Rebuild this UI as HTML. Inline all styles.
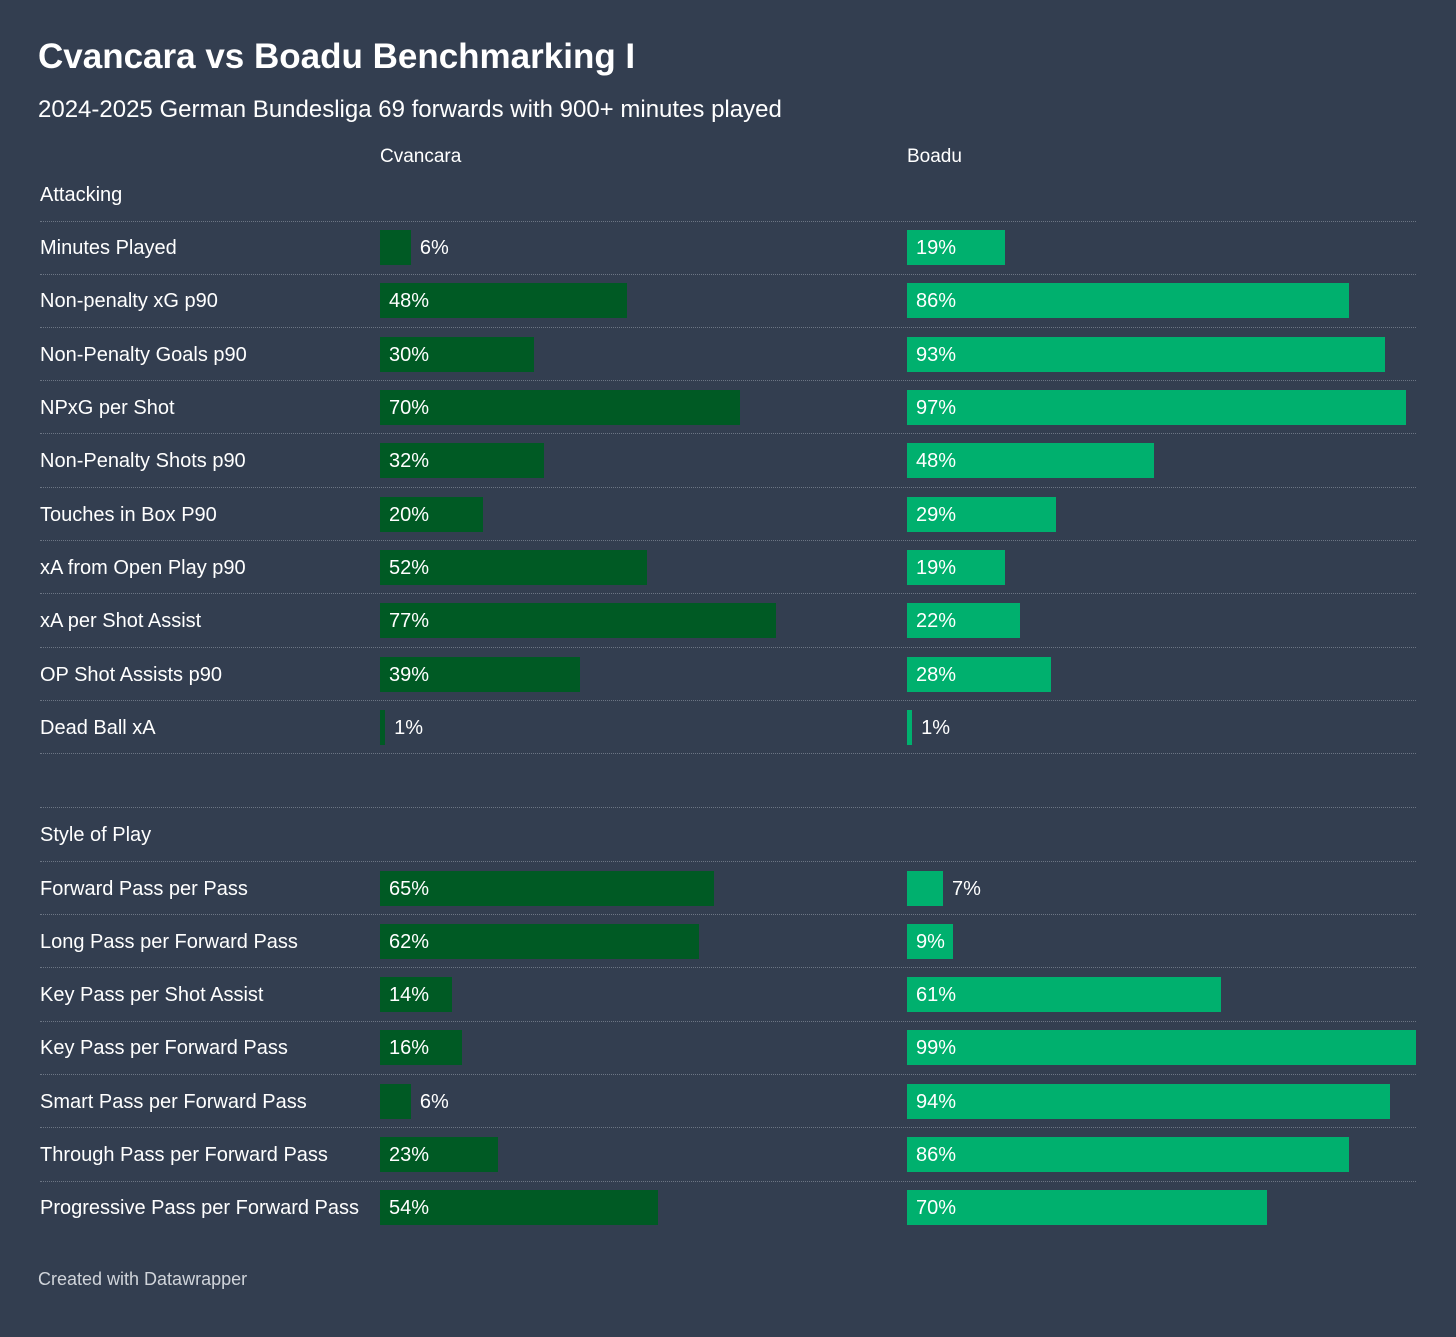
<!DOCTYPE html>
<html><head><meta charset="utf-8">
<style>
body{margin:0;width:1456px;height:1337px;background:#333e50;font-family:"Liberation Sans",sans-serif;color:#fff;position:relative;overflow:hidden}
.a{position:absolute;white-space:nowrap}
.lab{font-size:20px;line-height:24px}
.div{position:absolute;left:40px;width:1376px;height:0;border-top:1.5px dotted #6c7584}
.bar{position:absolute;height:35px}
</style></head><body>
<div class="a" style="left:38px;top:37px;font-size:35px;font-weight:bold">Cvancara vs Boadu Benchmarking I</div>
<div class="a" style="left:38px;top:96px;font-size:24px">2024-2025 German Bundesliga 69 forwards with 900+ minutes played</div>
<div class="a lab" style="left:380px;top:145px;font-size:19px">Cvancara</div>
<div class="a lab" style="left:907px;top:145px;font-size:19px">Boadu</div>
<div class="a" style="left:38px;top:1269px;font-size:18px;color:#d0d4da">Created with Datawrapper</div>
<div id="chart"></div>
<script>
const attackLabels=["Minutes Played","Non-penalty xG p90","Non-Penalty Goals p90","NPxG per Shot","Non-Penalty Shots p90","Touches in Box P90","xA from Open Play p90","xA per Shot Assist","OP Shot Assists p90","Dead Ball xA"];
const attackCvancara=[6,48,30,70,32,20,52,77,39,1];
const attackBoadu=[19,86,93,97,48,29,19,22,28,1];
const styleLabels=["Forward Pass per Pass","Long Pass per Forward Pass","Key Pass per Shot Assist","Key Pass per Forward Pass","Smart Pass per Forward Pass","Through Pass per Forward Pass","Progressive Pass per Forward Pass"];
const styleCvancara=[65,62,14,16,6,23,54];
const styleBoadu=[7,9,61,99,94,86,70];

const chart=document.getElementById('chart');
const pitch=53.33, scale=5.14;
function x(v){return v*scale;}
function el(cls,style,text){const d=document.createElement('div');d.className=cls;d.setAttribute('style',style);if(text!==undefined)d.textContent=text;chart.appendChild(d);return d;}
function divider(y){const d=el('div','top:'+y+'px');

}
function bar(left,y,v,color,name){
 const w=Math.max(x(v),4);
 const b=el('bar','left:'+left+'px;top:'+(y-17)+'px;width:'+w+'px;background:'+color);
 
 
 const inside=w>=40;
 const t=el('a lab','left:'+(inside?left+9:left+w+9)+'px;top:'+(y-11)+'px',v+'%');
 
 
}
function section(title,titleY,labels,cv,bo,startY,lastDivider){
 const s=el('a lab','left:40px;top:'+(titleY-11)+'px',title);
 
 
 divider(startY-26.5);
 labels.forEach((l,i)=>{
  const cy=startY+i*pitch;
  const t=el('a lab','left:40px;top:'+(cy-11)+'px',l);
  
  
  bar(380,cy,cv[i],'#005a24','cvancara');
  bar(907,cy,bo[i],'#00b06e','boadu');
  if(i<labels.length-1||lastDivider) divider(cy+26.5);
 });
}
section("Attacking",194,attackLabels,attackCvancara,attackBoadu,247,true);
divider(807);
section("Style of Play",834,styleLabels,styleCvancara,styleBoadu,887.5,false);
</script>
</body></html>
